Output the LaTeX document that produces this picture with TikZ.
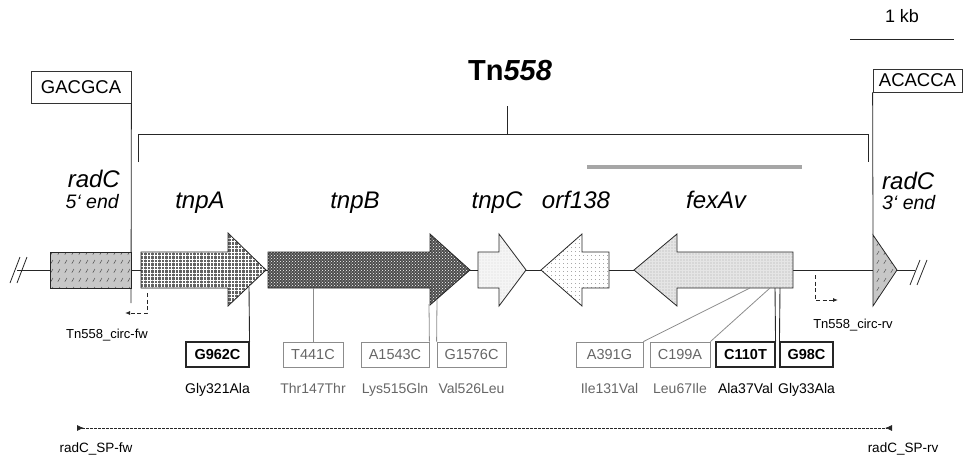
\documentclass[tikz,border=0pt]{standalone}
\usepackage{fontspec}
\setmainfont{Liberation Sans}
\usepackage{xcolor}
\usetikzlibrary{arrows.meta,patterns,patterns.meta}
\definecolor{linegray}{HTML}{8C8C8C}
\definecolor{textgray}{HTML}{666666}
\definecolor{bargray}{HTML}{A6A6A6}
\pgfdeclarepatternformonly{radcslash}{\pgfqpoint{0pt}{0pt}}{\pgfqpoint{7pt}{9pt}}{\pgfqpoint{7pt}{9pt}}{%
  \pgfsetlinewidth{0.5pt}%
  \pgfpathmoveto{\pgfqpoint{2pt}{2.5pt}}%
  \pgfpathlineto{\pgfqpoint{4.5pt}{6.5pt}}%
  \pgfusepath{stroke}}

\begin{document}
\begin{tikzpicture}[
  x=1pt,
  y=-1pt,
  seqbox/.style={draw=black!80, line width=0.8pt, font=\fontsize{18.5}{21}\selectfont, inner sep=0pt},
  gene/.style={draw=black!85, line width=0.8pt},
  genelab/.style={font=\fontsize{24}{28}\selectfont\itshape, inner sep=0pt, anchor=base},
  endlab/.style={font=\fontsize{19.5}{23}\selectfont\itshape, inner sep=0pt, anchor=base},
  mutbold/.style={draw=black!85, line width=1.1pt, font=\fontsize{14.5}{17}\selectfont\bfseries, minimum height=25pt, inner sep=0pt},
  mutgray/.style={draw=linegray, line width=0.8pt, text=textgray, font=\fontsize{14.5}{17}\selectfont, minimum height=25pt, inner sep=0pt},
  aalab/.style={font=\fontsize{14}{16}\selectfont, inner sep=0pt, anchor=base},
  connbold/.style={draw=black!85, line width=0.9pt},
  conngray/.style={draw=linegray, line width=0.8pt},
  primer/.style={draw=black!85, dash pattern=on 4pt off 2.5pt, line width=0.9pt, -{Latex[length=5pt,width=4pt]}},
  primlab/.style={font=\fontsize{13}{15}\selectfont, inner sep=0pt, anchor=base},
  radcfill/.style={preaction={fill=black!22}, pattern=radcslash, pattern color=black!70}
]
\useasboundingbox (0,0) rectangle (963,455);

\node[font=\fontsize{18}{21}\selectfont, inner sep=0pt, anchor=base] (kb) at (902,23) {1 kb};
\draw[line width=0.8pt, black!85] (850,39) -- (954,39);

\node[font=\fontsize{29}{32}\selectfont\bfseries, inner sep=0pt, anchor=base] (tn) at (510,80) {Tn\textit{558}};
\draw[line width=0.8pt, black!85] (138,162) -- (138,134) -- (868,134) -- (868,162);
\draw[line width=0.8pt, black!85] (507,134) -- (507,106);
\draw[line width=4pt, bargray] (587,167) -- (802,167);

\node[seqbox, minimum width=100pt, minimum height=32pt] (lseq) at (81,87) {GACGCA};
\node[seqbox, minimum width=89pt, minimum height=23pt] (rseq) at (917.5,80.5) {ACACCA};
\coordinate (lend) at (131,303);
\coordinate (rend) at (873,235);
\draw[line width=0.8pt, black!85] (lseq.south east) -- (lend);
\draw[line width=0.8pt, black!85] (rseq.south west) -- (rend);

\node[genelab, anchor=base east] at (120,187) {radC};
\node[endlab, anchor=base east] at (119,208) {5‘ end};
\node[genelab, anchor=base west] at (882,189) {radC};
\node[endlab, anchor=base west] at (882,209) {3‘ end};
\node[genelab] at (200,208) {tnpA};
\node[genelab] at (355,208) {tnpB};
\node[genelab] at (497,208) {tnpC};
\node[genelab] at (576,208) {orf138};
\node[genelab] at (716,208) {fexAv};

\draw[line width=0.8pt, black!85] (17,270) -- (915,270);
\draw[line width=0.8pt, black!85] (10,283) -- (20,257);
\draw[line width=0.8pt, black!85] (17,283) -- (27,257);
\draw[line width=0.8pt, black!85] (910,285) -- (920,260);
\draw[line width=0.8pt, black!85] (917,285) -- (927,260);

\draw[gene, radcfill] (50,252) rectangle (131,288);
\draw[gene, preaction={fill=black!62}, pattern={Hatch[distance=3.5pt, line width=0.7pt]}, pattern color=white]
  (141,252) -- (228,252) -- (228,233) -- (266,270) -- (228,306) -- (228,288) -- (141,288) -- cycle;
\draw[gene, preaction={fill=black!70}, pattern=crosshatch dots, pattern color=white]
  (268,252) -- (430,252) -- (430,234) -- (470,270) -- (430,305) -- (430,288) -- (268,288) -- cycle;
\draw[gene, preaction={fill=black!4}, pattern={Dots[distance=3pt, radius=0.3pt]}, pattern color=black!35]
  (478,252) -- (499,252) -- (499,234) -- (526,270) -- (499,306) -- (499,288) -- (478,288) -- cycle;
\draw[gene, preaction={fill=white}, pattern={Dots[distance=4pt, radius=0.45pt]}, pattern color=black!80]
  (609,252) -- (582,252) -- (582,234) -- (541,270) -- (582,306) -- (582,288) -- (609,288) -- cycle;
\draw[gene, preaction={fill=black!10}, pattern={Dots[distance=3pt, radius=0.45pt]}, pattern color=black!75]
  (793,252) -- (677,252) -- (677,234) -- (634,270) -- (677,306) -- (677,288) -- (793,288) -- cycle;
\draw[gene, radcfill] (873,235) -- (897,270) -- (873,306) -- cycle;

\coordinate (cfw) at (147,293);
\coordinate (cfwend) at (125,313);
\draw[primer] (cfw) |- (cfwend);
\node[primlab] (cfwlab) at (107,338) {Tn558\_circ-fw};
\coordinate (crv) at (815,275);
\coordinate (crvend) at (838,300);
\draw[primer] (crv) |- (crvend);
\node[primlab] (crvlab) at (853,328) {Tn558\_circ-rv};

\node[mutbold, minimum width=63pt] (g962) at (217.5,354.5) {G962C};
\node[mutgray, minimum width=60pt] (t441) at (313,354.5) {T441C};
\node[mutgray, minimum width=68pt] (a1543) at (395,354.5) {A1543C};
\node[mutgray, minimum width=69pt] (g1576) at (471.5,354.5) {G1576C};
\node[mutgray, minimum width=67pt] (a391) at (609.5,354.5) {A391G};
\node[mutgray, minimum width=60pt] (c199) at (680,354.5) {C199A};
\node[mutbold, minimum width=59pt] (c110) at (745.5,354.5) {C110T};
\node[mutbold, minimum width=53pt] (g98) at (806.5,354.5) {G98C};

\coordinate (ha) at (249,287);
\coordinate (hb1) at (313,288);
\coordinate (hb2) at (429,304);
\coordinate (hb3) at (437,299);
\coordinate (hf1) at (750,288);
\coordinate (hf2) at (770,288);
\coordinate (hf3) at (775,288);
\coordinate (hf4) at (780,288);
\draw[connbold] (g962.north east) -- (ha);
\draw[conngray] (t441.north) -- (hb1);
\draw[conngray] (a1543.north east) -- (hb2);
\draw[conngray] (g1576.north west) -- (hb3);
\draw[conngray] (a391.north east) -- (hf1);
\draw[conngray] (c199.north east) -- (hf2);
\draw[connbold] (c110.north east) -- (hf3);
\draw[connbold] (g98.north west) -- (hf4);

\node[aalab] at (217.5,393) {Gly321Ala};
\node[aalab, text=textgray] at (313,393) {Thr147Thr};
\node[aalab, text=textgray] at (395,393) {Lys515Gln};
\node[aalab, text=textgray] at (471.5,393) {Val526Leu};
\node[aalab, text=textgray] at (609.5,393) {Ile131Val};
\node[aalab, text=textgray] at (680,393) {Leu67Ile};
\node[aalab] at (745.5,393) {Ala37Val};
\node[aalab] at (806.5,393) {Gly33Ala};

\coordinate (spfw) at (77,428);
\coordinate (sprv) at (892,428);
\draw[black!85, dash pattern=on 2.5pt off 1.5pt, line width=0.8pt, {Latex[reversed,length=7pt,width=6pt]}-{Latex[reversed,length=7pt,width=6pt]}] (spfw) -- (sprv);
\node[primlab, font=\fontsize{13.5}{16}\selectfont] (spfwlab) at (96,452) {radC\_SP-fw};
\node[primlab, font=\fontsize{13.5}{16}\selectfont] (sprvlab) at (903,452) {radC\_SP-rv};
\end{tikzpicture}
\end{document}
